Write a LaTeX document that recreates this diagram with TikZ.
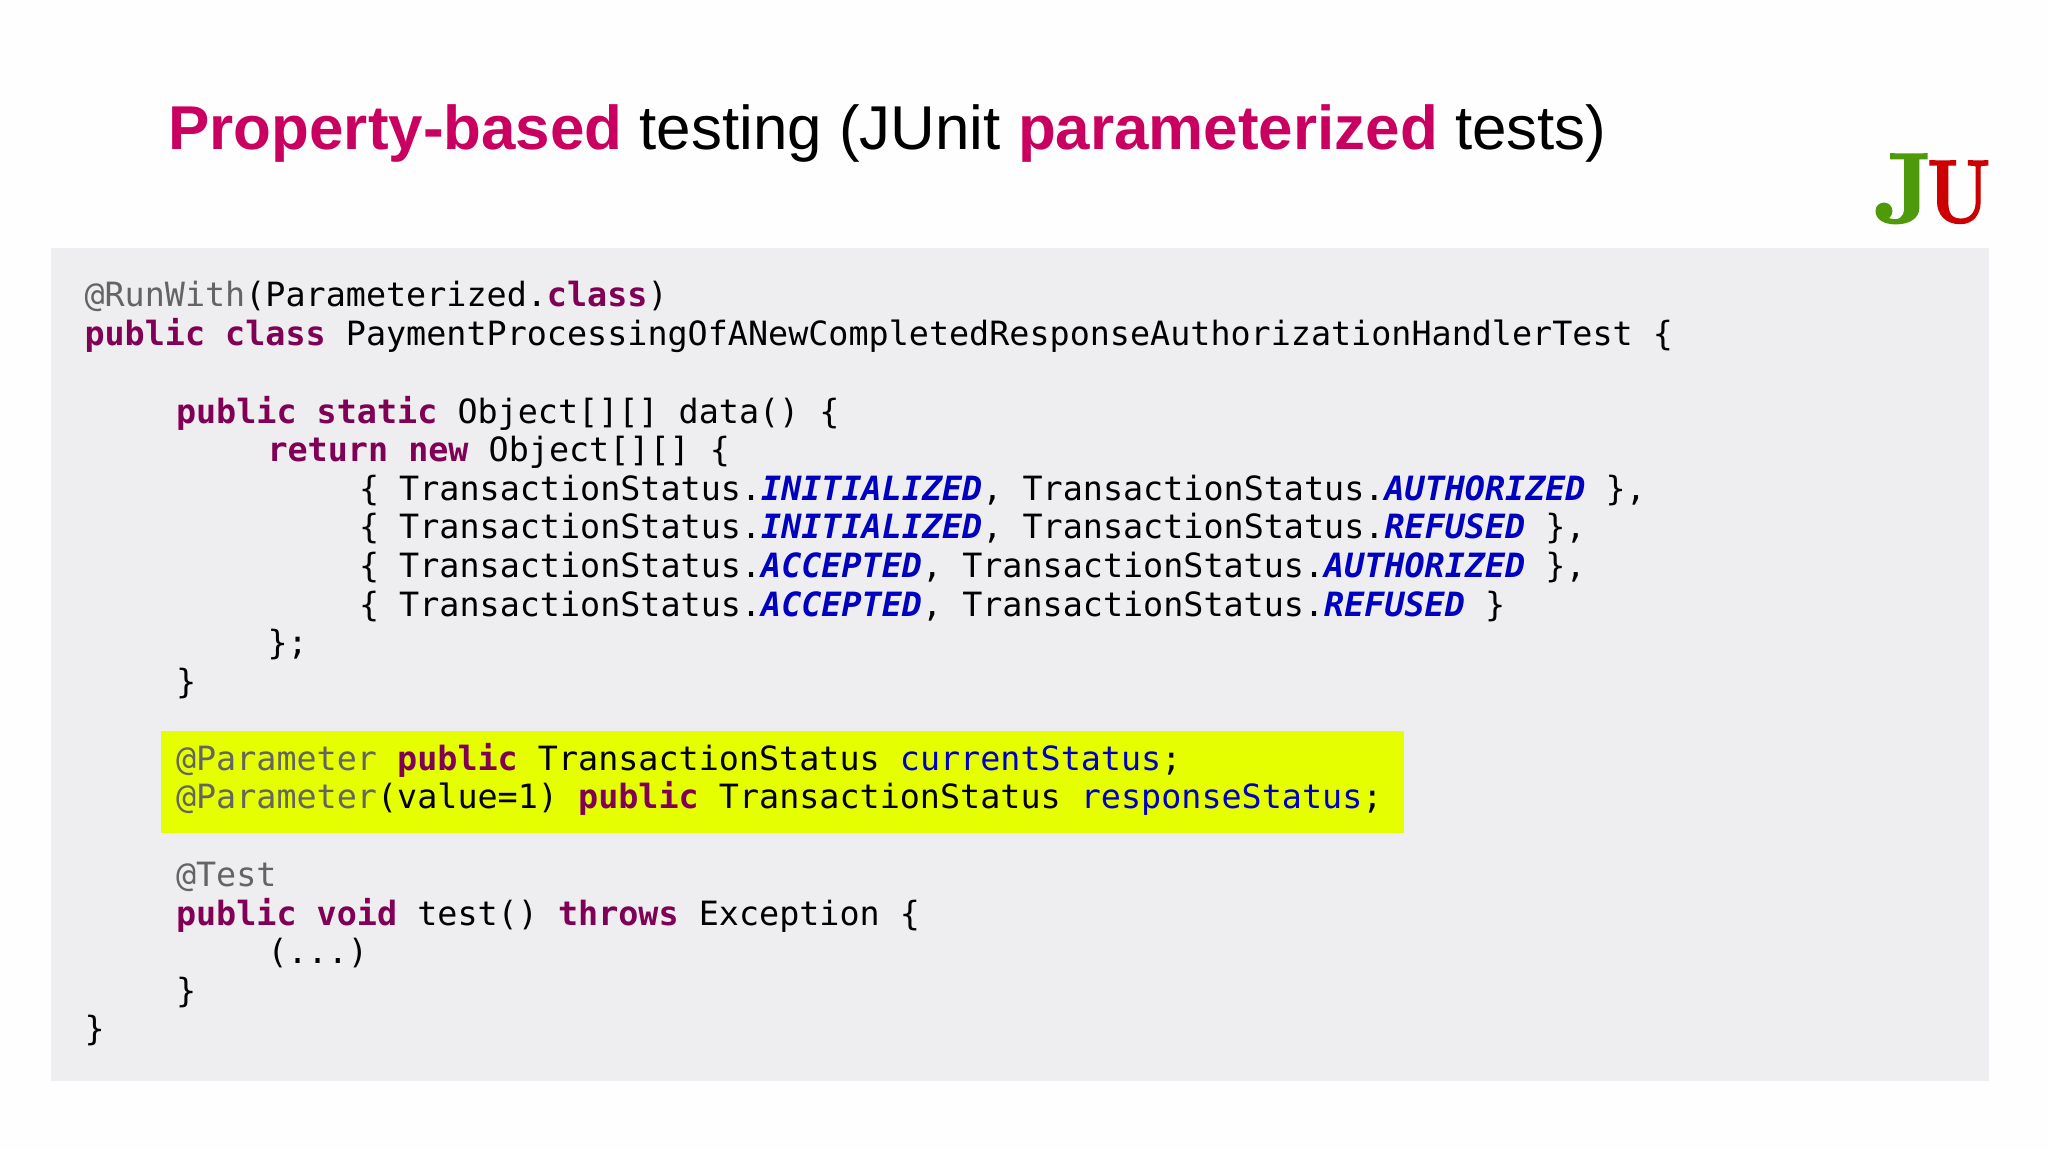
\documentclass[tikz,border=0pt]{standalone}
\usepackage{fontspec}
\setmainfont{Liberation Sans}
\setmonofont{DejaVu Sans Mono}
\newfontfamily\logofont{lmroman10-bold}[Extension=.otf,FakeBold=1.6]
\definecolor{kw}{HTML}{7F0055}
\definecolor{ann}{HTML}{646464}
\definecolor{fld}{HTML}{0000C0}
\definecolor{accent}{HTML}{C9005F}
\definecolor{panel}{HTML}{EEEDEF}
\definecolor{hilite}{HTML}{E6FF00}
\definecolor{jgreen}{HTML}{4F9A0A}
\definecolor{ured}{HTML}{CC0000}
\definecolor{page}{HTML}{FEFEFE}
\newcommand{\kw}[1]{\textcolor{kw}{\bfseries #1}}
\newcommand{\ann}[1]{\textcolor{ann}{#1}}
\newcommand{\st}[1]{\textcolor{fld}{\bfseries\itshape #1}}
\newcommand{\fld}[1]{\textcolor{fld}{#1}}
\newcommand{\ts}{TransactionStatus.}
\tikzset{
  code/.style={anchor=base west,inner sep=0pt,outer sep=0pt,font=\ttfamily\fontsize{33.4}{38}\selectfont,text=black},
  titletext/.style={anchor=base west,inner sep=0pt,outer sep=0pt,font=\fontsize{61.9}{70}\selectfont,text=black},
  logoglyph/.style={anchor=base west,inner sep=0pt,outer sep=0pt,transform shape},
}
\begin{document}
\begin{tikzpicture}[x=1pt,y=-1pt]
\useasboundingbox (0,0) rectangle (2048,1150);
\fill[page] (0,0) rectangle (2048,1150);
\node[titletext] (title) at (168.5,150) {\textcolor{accent}{\bfseries Property-based} testing (JUnit \textcolor{accent}{\bfseries parameterized} tests)};
\node[logoglyph,font=\logofont\fontsize{100}{100}\selectfont,text=jgreen] (logoJ) at (1874,222.5) {J};
\node[logoglyph,xscale=0.8,font=\logofont\fontsize{90}{90}\selectfont,text=ured] (logoU) at (1927,222.5) {U};
\fill[panel] (51,248) rectangle (1989,1081);
\fill[hilite] (161,731) rectangle (1404,833);
\node[code] (l0) at (84.5,307) {\ann{@RunWith}(Parameterized.\kw{class})};
\node[code] (l1) at (84.5,345.6) {\kw{public class} PaymentProcessingOfANewCompletedResponseAuthorizationHandlerTest \{};
\node[code] (l3) at (176,423) {\kw{public static} Object[][] data() \{};
\node[code] (l4) at (267.5,461.6) {\kw{return new} Object[][] \{};
\node[code] (l5) at (359,500) {\{ \ts\st{INITIALIZED}, \ts\st{AUTHORIZED} \},};
\node[code] (l6) at (359,538.8) {\{ \ts\st{INITIALIZED}, \ts\st{REFUSED} \},};
\node[code] (l7) at (359,577.4) {\{ \ts\st{ACCEPTED}, \ts\st{AUTHORIZED} \},};
\node[code] (l8) at (359,616.2) {\{ \ts\st{ACCEPTED}, \ts\st{REFUSED} \}};
\node[code] (l9) at (267.5,654.6) {\};};
\node[code] (l10) at (176,693.2) {\}};
\node[code] (l12) at (176,770.4) {\ann{@Parameter} \kw{public} TransactionStatus \fld{currentStatus};};
\node[code] (l13) at (176,808.6) {\ann{@Parameter}(value=1) \kw{public} TransactionStatus \fld{responseStatus};};
\node[code] (l15) at (176,886.4) {\ann{@Test}};
\node[code] (l16) at (176,925.2) {\kw{public void} test() \kw{throws} Exception \{};
\node[code] (l17) at (267.5,963.8) {(...)};
\node[code] (l18) at (176,1002.4) {\}};
\node[code] (l19) at (84.5,1040.8) {\}};
\end{tikzpicture}
\end{document}
